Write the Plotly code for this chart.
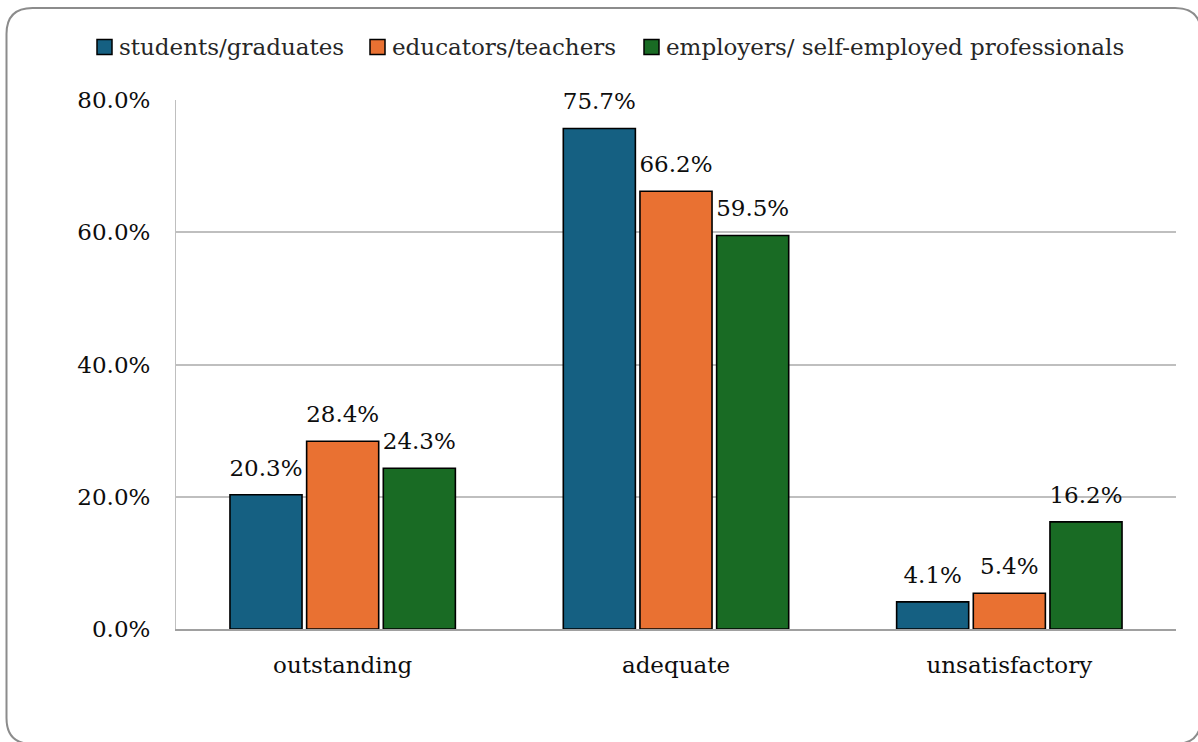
import plotly.graph_objects as go

# Survey ratings by respondent group (percent)
categories = ["outstanding", "adequate", "unsatisfactory"]
students_graduates = [20.3, 75.7, 4.1]
educators_teachers = [28.4, 66.2, 5.4]
employers_self_employed = [24.3, 59.5, 16.2]

series_names = [
    "students/graduates",
    "educators/teachers",
    "employers/ self-employed professionals",
]
series_colors = ["#156082", "#E97132", "#196B24"]
y_ticks = [0, 20, 40, 60, 80]

FONT = "DejaVu Serif"
FS = 23
W, H = 1198, 742
L, R, T, B = 176, 22, 100, 113
GAP = 0.31

fig = go.Figure()
all_series = [students_graduates, educators_teachers, employers_self_employed]
for i, (name, vals, col) in enumerate(zip(series_names, all_series, series_colors)):
    fig.add_trace(
        go.Bar(
            name=name,
            x=categories,
            y=vals,
            offsetgroup=str(i),
            marker=dict(color=col, line=dict(color="#000000", width=1.6)),
            showlegend=False,
        )
    )
# value labels, grouped the same way as the bars
for i, vals in enumerate(all_series):
    fig.add_trace(
        go.Scatter(
            x=categories,
            y=vals,
            offsetgroup=str(i),
            mode="markers+text",
            marker=dict(size=20, opacity=0),
            text=[f"{v:.1f}%" for v in vals],
            textposition="top center",
            textfont=dict(family=FONT, size=FS, color="#0D0D0D"),
            cliponaxis=False,
            showlegend=False,
            hoverinfo="skip",
        )
    )


# helpers to place decorations in pixel terms
def px(x):
    return (x - L) / (W - L - R)


def py(y):
    return (H - B - y) / (H - T - B)


x0, x1, y0, y1, r = 6.5, 1201, 8, 744, 26
frame = (
    f"M {px(x0)},{py(y0 + r)} "
    f"Q {px(x0)},{py(y0)} {px(x0 + r)},{py(y0)} "
    f"L {px(x1 - r)},{py(y0)} "
    f"Q {px(x1)},{py(y0)} {px(x1)},{py(y0 + r)} "
    f"L {px(x1)},{py(y1 - r)} "
    f"Q {px(x1)},{py(y1)} {px(x1 - r)},{py(y1)} "
    f"L {px(x0 + r)},{py(y1)} "
    f"Q {px(x0)},{py(y1)} {px(x0)},{py(y1 - r)} Z"
)
shapes = [
    dict(
        type="path",
        path=frame,
        xref="paper",
        yref="paper",
        line=dict(color="#8C8C8C", width=2),
        fillcolor="rgba(0,0,0,0)",
        layer="below",
    )
]
annotations = []

# legend row along the top: swatch + label for each series
legend_left = [97, 370, 644]
legend_y = 47
for name, col, lx in zip(series_names, series_colors, legend_left):
    shapes.append(
        dict(
            type="rect",
            xref="paper",
            yref="paper",
            x0=px(lx),
            x1=px(lx + 15),
            y0=py(legend_y - 7.5),
            y1=py(legend_y + 7.5),
            fillcolor=col,
            line=dict(color="#000000", width=1.5),
        )
    )
    annotations.append(
        dict(
            text=name,
            xref="paper",
            yref="paper",
            x=px(lx + 20),
            y=py(legend_y),
            xanchor="left",
            yanchor="middle",
            showarrow=False,
            font=dict(family=FONT, size=FS, color="#262626"),
        )
    )

fig.update_layout(
    width=W,
    height=H,
    margin=dict(l=L, r=R, t=T, b=B, autoexpand=False),
    paper_bgcolor="#FFFFFF",
    plot_bgcolor="#FFFFFF",
    barmode="group",
    bargap=GAP,
    bargroupgap=0.06,
    scattermode="group",
    scattergap=GAP,
    font=dict(family=FONT, size=FS, color="#0D0D0D"),
    shapes=shapes,
    annotations=annotations,
    showlegend=False,
)

fig.update_xaxes(
    showline=True,
    linecolor="#A0A0A0",
    linewidth=2,
    ticks="",
    ticklabelstandoff=14,
    tickfont=dict(family=FONT, size=FS, color="#0D0D0D"),
    showgrid=False,
)
fig.update_yaxes(
    range=[0, 80],
    tickvals=y_ticks,
    ticktext=[f"{v:.1f}%" for v in y_ticks],
    showgrid=True,
    gridcolor="#BFBFBF",
    gridwidth=1.5,
    showline=True,
    linecolor="#BFBFBF",
    linewidth=1,
    ticks="",
    ticklabelstandoff=20,
    tickfont=dict(family=FONT, size=FS, color="#0D0D0D"),
    zeroline=False,
)

fig.write_html("out.html")
